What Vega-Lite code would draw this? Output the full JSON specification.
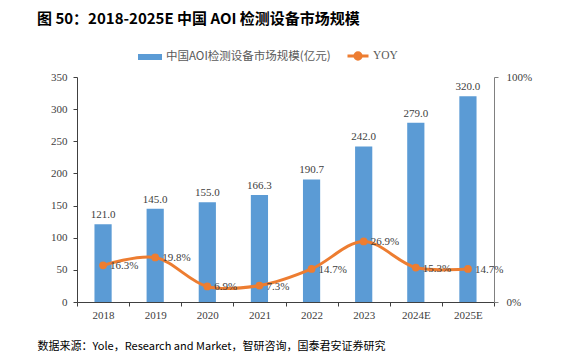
{
  "$schema": "https://vega.github.io/schema/vega-lite/v6.json",
  "width": 417,
  "height": 225,
  "autosize": {"type": "none"},
  "padding": {"left": 77, "top": 77, "right": 75, "bottom": 50},
  "background": "white",
  "title": {
    "text": "图 50：2018-2025E 中国 AOI 检测设备市场规模",
    "anchor": "start",
    "frame": "group",
    "font": "Noto Sans CJK SC",
    "fontWeight": "bold",
    "fontSize": 15,
    "color": "#000000",
    "offset": 17,
    "dx": -40
  },
  "config": {
    "font": "Liberation Serif",
    "view": {"stroke": null},
    "axis": {"grid": false, "labelFont": "Liberation Serif", "labelFontSize": 11, "labelColor": "#404040", "labelOverlap": false}
  },
  "data": {
    "values": [
      {"year": "2018", "value": 121.0, "yoy": 0.163},
      {"year": "2019", "value": 145.0, "yoy": 0.198},
      {"year": "2020", "value": 155.0, "yoy": 0.069},
      {"year": "2021", "value": 166.3, "yoy": 0.073},
      {"year": "2022", "value": 190.7, "yoy": 0.147},
      {"year": "2023", "value": 242.0, "yoy": 0.269},
      {"year": "2024E", "value": 279.0, "yoy": 0.153},
      {"year": "2025E", "value": 320.0, "yoy": 0.147}
    ]
  },
  "encoding": {
    "x": {
      "field": "year",
      "type": "nominal",
      "sort": null,
      "scale": {"paddingInner": 0, "paddingOuter": 0},
      "axis": {
        "labelAngle": 0,
        "tickBand": "extent",
        "domainColor": "#404040",
        "tickColor": "#404040",
        "tickSize": 4,
        "labelPadding": 3,
        "title": "数据来源：Yole，Research and Market，智研咨询，国泰君安证券研究",
        "titleFont": "Noto Sans CJK SC",
        "titleFontWeight": "normal",
        "titleFontSize": 11,
        "titleColor": "#000000",
        "titleAnchor": "start",
        "titleAlign": "left",
        "titleBaseline": "middle",
        "titleX": -40,
        "titleY": 44
      }
    }
  },
  "layer": [
    {
      "encoding": {
        "y": {
          "field": "value",
          "type": "quantitative",
          "scale": {"domain": [0, 350]},
          "axis": {
            "title": null,
            "values": [0, 50, 100, 150, 200, 250, 300, 350],
            "tickCount": 8,
            "domainColor": "#404040",
            "tickColor": "#404040",
            "tickSize": 4,
            "labelPadding": 6
          }
        }
      },
      "layer": [
        {
          "mark": {"type": "bar", "width": {"band": 0.33}},
          "encoding": {
            "fill": {
              "datum": "中国AOI检测设备市场规模(亿元)",
              "type": "nominal",
              "scale": {"range": ["#5B9BD5"]},
              "legend": {
                "title": null,
                "orient": "none",
                "legendX": 60,
                "legendY": -33,
                "symbolType": "M-1,-0.25H1V0.25H-1Z",
                "symbolSize": 576,
                "labelFont": "Noto Sans CJK SC",
                "labelFontSize": 11.5,
                "labelLimit": 400,
                "labelOffset": 3,
                "labelColor": "#595959"
              }
            }
          }
        },
        {
          "mark": {"type": "text", "dy": -9, "fontSize": 11, "color": "#404040"},
          "encoding": {
            "text": {"field": "value", "type": "quantitative", "format": ".1f"}
          }
        }
      ]
    },
    {
      "encoding": {
        "y": {
          "field": "yoy",
          "type": "quantitative",
          "scale": {"domain": [0, 1]},
          "axis": {
            "orient": "right",
            "title": null,
            "values": [0, 1],
            "format": ".0%",
            "domainColor": "#808080",
            "tickColor": "#808080",
            "tickSize": 4,
            "labelPadding": 8
          }
        }
      },
      "layer": [
        {
          "mark": {"type": "line", "interpolate": "catmull-rom", "strokeWidth": 3},
          "encoding": {
            "stroke": {
              "datum": "YOY",
              "type": "nominal",
              "scale": {"range": ["#ED7D31"]},
              "legend": {
                "title": null,
                "orient": "none",
                "legendX": 269,
                "legendY": -33,
                "symbolType": "M-1,0H-0.3A0.3,0.3 0 1,1 0.3,0A0.3,0.3 0 1,1 -0.3,0M0.3,0H1",
                "symbolSize": 441,
                "symbolStrokeWidth": 3,
                "symbolFillColor": "#ED7D31",
                "labelFontSize": 11.5,
                "labelOffset": 3,
                "labelColor": "#595959"
              }
            }
          }
        },
        {
          "mark": {"type": "point", "filled": true, "size": 60, "opacity": 1, "color": "#ED7D31"}
        },
        {
          "mark": {"type": "text", "align": "left", "dx": 7, "dy": 1, "fontSize": 11, "color": "#404040"},
          "encoding": {
            "text": {"field": "yoy", "type": "quantitative", "format": ".1%"}
          }
        }
      ]
    }
  ],
  "resolve": {"scale": {"y": "independent"}}
}
